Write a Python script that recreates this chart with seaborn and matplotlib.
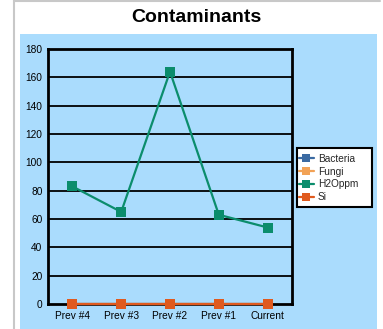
import matplotlib
matplotlib.use("Agg")
import matplotlib.pyplot as plt
from matplotlib.patches import Rectangle
from matplotlib.lines import Line2D
import pandas as pd
import seaborn as sns

# Sample periods and measured contaminant levels
periods = ["Prev #4", "Prev #3", "Prev #2", "Prev #1", "Current"]
bacteria = [0, 0, 0, 0, 0]
fungi = [0, 0, 0, 0, 0]
h2oppm = [83, 65, 164, 63, 54]
si = [0, 0, 0, 0, 0]
series_names = ["Bacteria", "Fungi", "H2Oppm", "Si"]
series_colors = ["#3b6aa2", "#f2a256", "#0b8d6c", "#e05a1e"]
y_ticks = [0, 20, 40, 60, 80, 100, 120, 140, 160, 180]

sns.set_theme(style="white")
plt.rcParams["font.family"] = ["Liberation Sans", "DejaVu Sans"]

df = pd.DataFrame({
    "period": periods * 4,
    "value": bacteria + fungi + h2oppm + si,
    "series": sum([[n] * len(periods) for n in series_names], []),
})
df["x"] = df["period"].map({p: i for i, p in enumerate(periods)})

W, H = 383, 329
fig = plt.figure(figsize=(W / 100, H / 100), dpi=100)
fig.patch.set_facecolor("white")

# Panel background and outer frame
panel_bg = "#aadcfd"
fig.add_artist(Rectangle((20 / W, 0), (377 - 20) / W, (329 - 34) / H,
                         transform=fig.transFigure, facecolor=panel_bg,
                         edgecolor="none", zorder=0))
fig.add_artist(Line2D([13.5 / W, 13.5 / W], [0, 1], transform=fig.transFigure,
                      color="#c8c8c8", lw=1.5))
fig.add_artist(Line2D([13.5 / W, 380 / W], [1 - 0.8 / H, 1 - 0.8 / H],
                      transform=fig.transFigure, color="#c8c8c8", lw=1.5))

fig.text(196 / W, 1 - 17 / H, "Contaminants", ha="center", va="center",
         fontsize=14, fontweight="bold", color="black")

ax = fig.add_axes([48 / W, 1 - 304 / H, 244 / W, 255 / H])
ax.set_facecolor("none")

sns.lineplot(data=df, x="x", y="value", hue="series", hue_order=series_names,
             palette=series_colors, marker="s", markersize=7, markeredgewidth=0,
             linewidth=1.6, dashes=False, ax=ax, legend=False)
for ln in ax.get_lines():
    ln.set_zorder(10)
    ln.set_clip_on(False)

ax.set_xlim(-0.5, len(periods) - 0.5)
ax.set_ylim(0, 180)
ax.set_yticks(y_ticks)
ax.set_yticklabels([str(t) for t in y_ticks])
ax.set_xticks(range(len(periods)))
ax.set_xticklabels(periods)
ax.tick_params(axis="both", length=0, labelsize=7.3, colors="black")
ax.tick_params(axis="y", pad=4)
ax.tick_params(axis="x", pad=5)
ax.set_xlabel("")
ax.set_ylabel("")
for t in y_ticks[1:-1]:
    ax.axhline(t, color="black", lw=1.3, zorder=1)
for s in ax.spines.values():
    s.set_visible(True)
    s.set_color("black")
    s.set_linewidth(2)
    s.set_zorder(2)

# Legend box with white fill and black border
fig.add_artist(Rectangle((297 / W, 1 - 207 / H), 75 / W, 59 / H,
                         transform=fig.transFigure, facecolor="white",
                         edgecolor="black", lw=1.5, zorder=3))
handles = [Line2D([0], [0], color=c, lw=1.6, marker="s", markersize=5.5,
                  markeredgewidth=0) for c in series_colors]
leg = fig.legend(handles, series_names, loc="upper left",
                 bbox_to_anchor=(299 / W, 1 - 154 / H),
                 bbox_transform=fig.transFigure, fontsize=7.3,
                 frameon=False, handlelength=1.45,
                 handletextpad=0.4, borderpad=0, labelspacing=0.27,
                 borderaxespad=0)
leg.set_zorder(4)

fig.savefig("out.png", dpi=100, facecolor="white")
